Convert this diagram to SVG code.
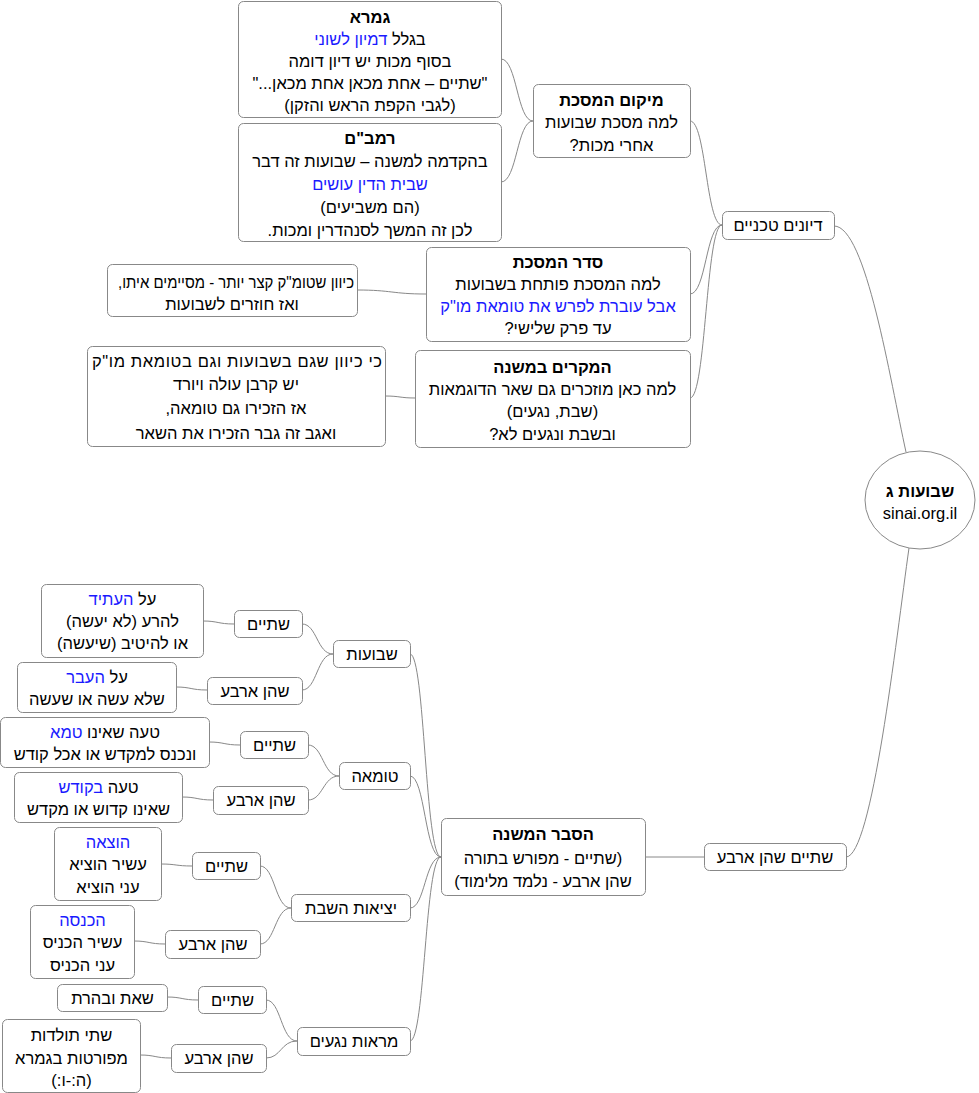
<svg xmlns="http://www.w3.org/2000/svg" width="979" height="1093" viewBox="0 0 979 1093">
<style>
.b{fill:#fff;stroke:#888;stroke-width:1}
text{font-family:"Liberation Sans",Arial,sans-serif;font-size:16.5px;fill:#000;text-anchor:middle;direction:rtl;unicode-bidi:embed}
.t{font-weight:bold}
.h{fill:#1a1aff}
.c path{fill:none;stroke:#888;stroke-width:1}
</style>
<rect width="979" height="1093" fill="#fff"/>
<g class="c" id="connectors">
<path d="M533,121 C517,121 517,59 501,59"/>
<path d="M533,121 C517,121 517,182 501,182"/>
<path d="M722,225 C706,225 706,121 690,121"/>
<path d="M722,225 C706,225 706,294 690,294"/>
<path d="M722,225 C706,225 706,398 690,398"/>
<path d="M426,294 C392,294 392,290 357,290"/>
<path d="M415,398 C400,398 400,396 385,396"/>
<path d="M834,226 C866,226 890,380 906,452"/>
<path d="M846,857 C872,857 896,640 909,548"/>
<path d="M704,857 L645,857"/>
<path d="M441,857 C425,857 425,654 410,654"/>
<path d="M441,857 C425,857 425,776 410,776"/>
<path d="M441,857 C425,857 425,908 410,908"/>
<path d="M441,857 C425,857 425,1041 410,1041"/>
<path d="M333,654 C317,654 317,624 302,624"/>
<path d="M333,654 C317,654 317,690 302,690"/>
<path d="M234,624 C218,624 218,621 203,621"/>
<path d="M207,690 C191,690 191,687 176,687"/>
<path d="M339,776 C323,776 323,745 308,745"/>
<path d="M339,776 C323,776 323,800 308,800"/>
<path d="M240,745 C224,745 224,742 209,742"/>
<path d="M213,800 C197,800 197,797 182,797"/>
<path d="M291,908 C275,908 275,866 260,866"/>
<path d="M291,908 C275,908 275,944 260,944"/>
<path d="M192,866 C176,866 176,864 161,864"/>
<path d="M165,944 C149,944 149,941 134,941"/>
<path d="M297,1041 C281,1041 281,1000 266,1000"/>
<path d="M297,1041 C281,1041 281,1058 266,1058"/>
<path d="M198,1000 C182,1000 182,997 167,997"/>
<path d="M171,1058 C155,1058 155,1055 140,1055"/>
</g>
<g id="root">
<ellipse cx="920" cy="500" rx="55" ry="49" class="b"/>
<text x="920" y="497" class="t">שבועות ג</text>
<text x="920" y="519" style="direction:ltr">sinai.org.il</text>
</g>
<g id="dionim">
<rect x="722.5" y="211.5" width="112" height="28" rx="5" class="b"/>
<text x="778" y="231">דיונים טכניים</text>
</g>
<g id="mikom">
<rect x="533.5" y="84.5" width="157" height="73" rx="5" class="b"/>
<text x="611.5" y="106" class="t">מיקום המסכת</text>
<text x="611.5" y="128">למה מסכת שבועות</text>
<text x="611.5" y="151">אחרי מכות?</text>
</g>
<g id="gemara">
<rect x="238.5" y="1.5" width="263" height="116" rx="5" class="b"/>
<text x="370" y="23" class="t">גמרא</text>
<text x="370" y="45">בגלל <tspan class="h">דמיון לשוני</tspan></text>
<text x="370" y="67">בסוף מכות יש דיון דומה</text>
<text x="370" y="89">"שתיים – אחת מכאן אחת מכאן..."</text>
<text x="370" y="111">(לגבי הקפת הראש והזקן)</text>
</g>
<g id="rambam">
<rect x="238.5" y="123.5" width="263" height="118" rx="5" class="b"/>
<text x="370" y="144" class="t">רמב"ם</text>
<text x="370" y="167">בהקדמה למשנה – שבועות זה דבר</text>
<text x="370" y="190" class="h">שבית הדין עושים</text>
<text x="370" y="213">(הם משביעים)</text>
<text x="370" y="236">לכן זה המשך לסנהדרין ומכות.</text>
</g>
<g id="seder">
<rect x="426.5" y="247.5" width="264" height="94" rx="5" class="b"/>
<text x="558" y="268" class="t">סדר המסכת</text>
<text x="558" y="290">למה המסכת פותחת בשבועות</text>
<text x="558" y="312" class="h">אבל עוברת לפרש את טומאת מו"ק</text>
<text x="558" y="334">עד פרק שלישי?</text>
</g>
<g id="kivvan">
<rect x="107.5" y="264.5" width="250" height="52" rx="5" class="b"/>
<text x="236" y="288" textLength="236" lengthAdjust="spacingAndGlyphs">כיוון שטומ"ק קצר יותר - מסיימים איתו,</text>
<text x="232" y="310">ואז חוזרים לשבועות</text>
</g>
<g id="mikrim">
<rect x="415.5" y="350.5" width="275" height="97" rx="5" class="b"/>
<text x="552.5" y="373" class="t">המקרים במשנה</text>
<text x="552.5" y="395">למה כאן מוזכרים גם שאר הדוגמאות</text>
<text x="552.5" y="417">(שבת, נגעים)</text>
<text x="552.5" y="440">ובשבת ונגעים לא?</text>
</g>
<g id="kikivvan">
<rect x="87.5" y="346.5" width="298" height="100" rx="5" class="b"/>
<text x="237" y="367" textLength="290">כי כיוון שגם בשבועות וגם בטומאת מו"ק</text>
<text x="236" y="390">יש קרבן עולה ויורד</text>
<text x="236" y="414">אז הזכירו גם טומאה,</text>
<text x="236" y="439">ואגב זה גבר הזכירו את השאר</text>
</g>
<g id="shtayimshehen">
<rect x="704.5" y="843.5" width="142" height="27" rx="5" class="b"/>
<text x="775" y="863">שתיים שהן ארבע</text>
</g>
<g id="hesber">
<rect x="441.5" y="818.5" width="204" height="77" rx="5" class="b"/>
<text x="543" y="840" class="t">הסבר המשנה</text>
<text x="543" y="864">(שתיים - מפורש בתורה</text>
<text x="543" y="887">שהן ארבע - נלמד מלימוד)</text>
</g>
<g id="shevuot">
<rect x="333.5" y="640.5" width="77" height="27" rx="5" class="b"/>
<text x="372" y="660">שבועות</text>
</g>
<g id="shtayim1">
<rect x="234.5" y="610.5" width="68" height="27" rx="5" class="b"/>
<text x="268.5" y="630">שתיים</text>
</g>
<g id="alheatid">
<rect x="41.5" y="584.5" width="162" height="73" rx="5" class="b"/>
<text x="122.5" y="605">על <tspan class="h">העתיד</tspan></text>
<text x="122.5" y="627">להרע (לא יעשה)</text>
<text x="122.5" y="649">או להיטיב (שיעשה)</text>
</g>
<g id="shehen1">
<rect x="207.5" y="677.5" width="95" height="27" rx="5" class="b"/>
<text x="255" y="697">שהן ארבע</text>
</g>
<g id="alhaavar">
<rect x="17.5" y="662.5" width="159" height="50" rx="5" class="b"/>
<text x="97" y="683">על <tspan class="h">העבר</tspan></text>
<text x="97" y="705">שלא עשה או שעשה</text>
</g>
<g id="tumah">
<rect x="339.5" y="762.5" width="71" height="27" rx="5" class="b"/>
<text x="375" y="782">טומאה</text>
</g>
<g id="shtayim2">
<rect x="240.5" y="731.5" width="68" height="27" rx="5" class="b"/>
<text x="274.5" y="751">שתיים</text>
</g>
<g id="toehtame">
<rect x="0.5" y="717.5" width="209" height="50" rx="5" class="b"/>
<text x="105" y="738">טעה שאינו <tspan class="h">טמא</tspan></text>
<text x="105" y="760">ונכנס למקדש או אכל קודש</text>
</g>
<g id="shehen2">
<rect x="213.5" y="786.5" width="95" height="28" rx="5" class="b"/>
<text x="261" y="806">שהן ארבע</text>
</g>
<g id="toehbakodesh">
<rect x="14.5" y="772.5" width="168" height="50" rx="5" class="b"/>
<text x="98.5" y="793">טעה <tspan class="h">בקודש</tspan></text>
<text x="98.5" y="815">שאינו קדוש או מקדש</text>
</g>
<g id="yetziot">
<rect x="291.5" y="894.5" width="119" height="27" rx="5" class="b"/>
<text x="351" y="914">יציאות השבת</text>
</g>
<g id="shtayim3">
<rect x="192.5" y="852.5" width="68" height="27" rx="5" class="b"/>
<text x="226.5" y="872">שתיים</text>
</g>
<g id="hotzaah">
<rect x="54.5" y="827.5" width="107" height="73" rx="5" class="b"/>
<text x="108" y="848" class="h">הוצאה</text>
<text x="108" y="870">עשיר הוציא</text>
<text x="108" y="893">עני הוציא</text>
</g>
<g id="shehen3">
<rect x="165.5" y="930.5" width="95" height="28" rx="5" class="b"/>
<text x="213" y="950">שהן ארבע</text>
</g>
<g id="hachnasa">
<rect x="30.5" y="905.5" width="104" height="73" rx="5" class="b"/>
<text x="82.5" y="926" class="h">הכנסה</text>
<text x="82.5" y="948">עשיר הכניס</text>
<text x="82.5" y="971">עני הכניס</text>
</g>
<g id="marot">
<rect x="297.5" y="1027.5" width="113" height="28" rx="5" class="b"/>
<text x="354" y="1047">מראות נגעים</text>
</g>
<g id="shtayim4">
<rect x="198.5" y="986.5" width="68" height="27" rx="5" class="b"/>
<text x="232.5" y="1006">שתיים</text>
</g>
<g id="set">
<rect x="57.5" y="984.5" width="110" height="27" rx="5" class="b"/>
<text x="112.5" y="1004">שאת ובהרת</text>
</g>
<g id="shehen4">
<rect x="171.5" y="1044.5" width="95" height="28" rx="5" class="b"/>
<text x="219" y="1064">שהן ארבע</text>
</g>
<g id="shteitoldot">
<rect x="2.5" y="1019.5" width="138" height="73" rx="5" class="b"/>
<text x="71.5" y="1041">שתי תולדות</text>
<text x="71.5" y="1064">מפורטות בגמרא</text>
<text x="71.5" y="1086">(ה:-ו:)</text>
</g>
</svg>
